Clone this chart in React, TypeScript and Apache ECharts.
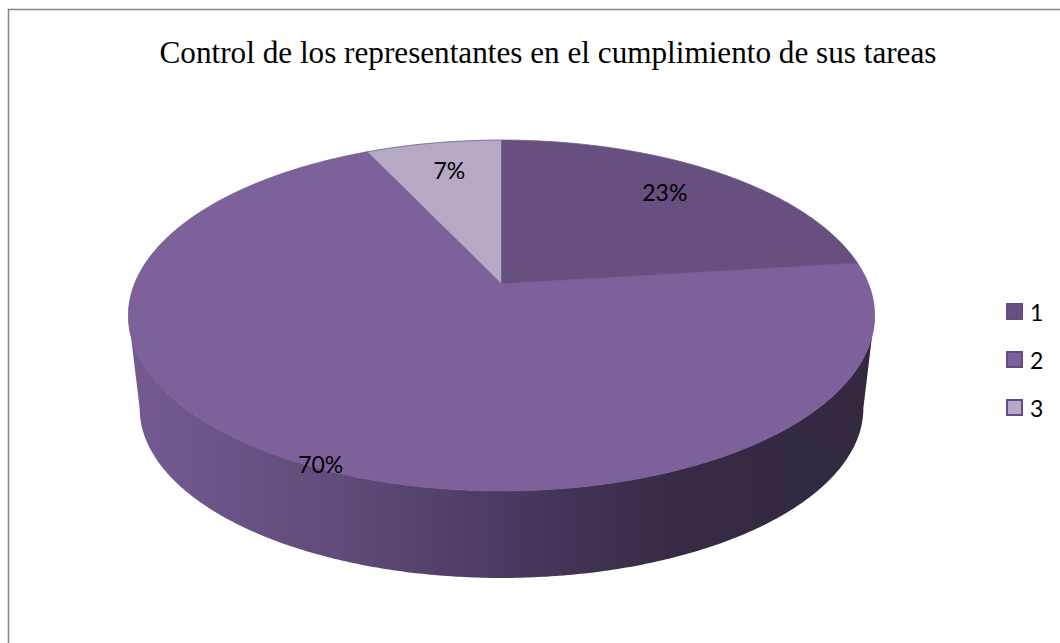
import React, { useEffect, useRef } from "react";
import * as echarts from "echarts";

const TITLE = "Control de los representantes en el cumplimiento de sus tareas";
const categories = ["1", "2", "3"];
const values = [23, 70, 7];
const colors = ["#674f80", "#7e619b", "#b5a9c6"];
const labelRadius = [0.8, 0.8, 0.8];
const labelNudge = [[-12, 0], [-19, 44], [4, 2]];

const total = values.reduce((a, b) => a + b, 0);
const CX = 501.5;
const K = 0.1795;
const TOP = { y0: 284, R: 367, S: 169.8 };
const BASE = { y0: 377.6, R: 356, S: 164.4 };

function project(geo: { y0: number; R: number; S: number }, th: number, f = 1): [number, number] {
  const u = Math.sin(th) * f;
  const v = Math.cos(th) * f;
  const d = 1 + K * v;
  return [CX + (geo.R * u) / d, geo.y0 - (geo.S * v) / d];
}

function arc(geo: typeof TOP, a: number, b: number): [number, number][] {
  const pts: [number, number][] = [];
  const n = Math.max(2, Math.ceil(Math.abs(b - a) / 0.01));
  for (let i = 0; i <= n; i++) pts.push(project(geo, a + ((b - a) * i) / n));
  return pts;
}

const VIS_A = Math.acos(-K);
const VIS_B = 2 * Math.PI - Math.acos(-K);

function sliceAngles(i: number): [number, number] {
  const before = values.slice(0, i).reduce((a, b) => a + b, 0);
  return [(before / total) * 2 * Math.PI, ((before + values[i]) / total) * 2 * Math.PI];
}

function makeSeries(i: number) {
  return {
    type: "custom",
    name: categories[i],
    coordinateSystem: "none",
    silent: true,
    z: 2,
    itemStyle: { color: colors[i], borderColor: "#654a85", borderWidth: 1.5 },
    data: [values[i]],
    renderItem: () => {
      const [a, b] = sliceAngles(i);
      const children: any[] = [];
      const wa = Math.max(a, VIS_A);
      const wb = Math.min(b, VIS_B);
      if (wb > wa) {
        children.push({
          type: "polygon",
          shape: { points: [...arc(TOP, wa, wb), ...arc(BASE, wb, wa)] },
          style: {
            fill: new echarts.graphic.LinearGradient(0, 0, 1, 0, [
              { offset: 0, color: "#735b92" },
              { offset: 0.3, color: "#5f4a78" },
              { offset: 0.5, color: "#4b3a62" },
              { offset: 0.72, color: "#372b47" },
              { offset: 1, color: "#332840" },
            ]),
          },
        });
      }
      children.push({
        type: "polygon",
        z2: 2,
        shape: { points: [[CX, TOP.y0], ...arc(TOP, a, b)] },
        style: { fill: colors[i], stroke: "#6f5a8c", lineWidth: 0.8 },
      });
      const mid = (a + b) / 2;
      const [lx, ly] = project(TOP, mid, labelRadius[i]);
      children.push({
        type: "text",
        z2: 5,
        x: lx + labelNudge[i][0],
        y: ly + labelNudge[i][1],
        style: {
          text: `${Math.round((values[i] / total) * 100)}%`,
          fontFamily: "Lato",
          fontSize: 23,
          fill: "#000",
          align: "center",
          verticalAlign: "middle",
        },
      });
      return { type: "group", children };
    },
  };
}

export default function App() {
  const ref = useRef<HTMLDivElement>(null);
  useEffect(() => {
    document.body.style.margin = "0";
    document.body.style.background = "#fff";
    const chart = echarts.init(ref.current!, undefined, { renderer: "svg" });
    chart.setOption({
      animation: false,
      backgroundColor: "#fff",
      title: {
        text: TITLE,
        left: 543,
        top: 32,
        textAlign: "center",
        textStyle: {
          fontFamily: "Liberation Serif",
          fontWeight: "normal",
          fontSize: 31.2,
          color: "#000",
        },
      },
      legend: {
        orient: "vertical",
        left: 1006,
        top: 300,
        padding: 0,
        icon: "rect",
        itemWidth: 15,
        itemHeight: 15,
        itemGap: 25,
        data: categories,
        textStyle: { fontFamily: "Lato", fontSize: 23, color: "#000", padding: [0, 0, 0, 3] },
        selectedMode: false,
      },
      graphic: [
        {
          type: "polyline",
          silent: true,
          shape: { points: [[8.5, 643], [8.5, 9.5], [1060, 9.5]] },
          style: { stroke: "#858585", lineWidth: 1.5, fill: "none" },
        },
      ],
      series: categories.map((_, i) => makeSeries(i)),
    });
    return () => chart.dispose();
  }, []);
  return <div ref={ref} style={{ width: 1060, height: 643 }} />;
}
